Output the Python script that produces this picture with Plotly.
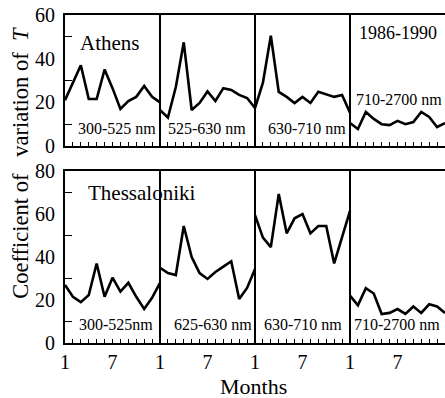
import plotly.graph_objects as go

# ---- data ----
months = list(range(1, 14))  # 13th point = month 1 of next block (block edge)
bands_top = ["300-525 nm", "525-630 nm", "630-710 nm", "710-2700 nm"]
bands_bottom = ["300-525nm", "625-630 nm", "630-710 nm", "710-2700 nm"]

athens_300_525 = [21, 29, 37, 21.5, 21.5, 35, 26.5, 17, 20.6, 22.5, 27.5, 22.5, 20]
athens_525_630 = [16.5, 13, 27, 47.5, 16.5, 19.7, 25, 20.6, 26.5, 25.7, 23.4, 22, 17.4]
athens_630_710 = [17.4, 29, 50.5, 24.8, 22.5, 19.7, 22.5, 19.7, 24.8, 23.8, 22.5, 23.4, 15.2]
athens_710_2700 = [10.5, 7.8, 15.6, 12.4, 10, 9.6, 11.5, 10, 11, 15.6, 13.3, 8.7, 10.5]

thess_300_525 = [27, 21.5, 19, 22.3, 37, 21.5, 30.4, 23.9, 28, 21.5, 15.8, 21, 28]
thess_625_630 = [35, 32.5, 31.6, 54.4, 40, 32.5, 29.8, 33, 35.5, 38, 20.5, 25.6, 34.4]
thess_630_710 = [59.5, 49, 44.6, 69.3, 51, 58, 60, 51, 54.4, 54.4, 37, 49, 61.4]
thess_710_2700 = [22, 17.5, 25.5, 23, 13.5, 14, 15.8, 13.5, 17, 14, 18, 17, 14]

athens = [athens_300_525, athens_525_630, athens_630_710, athens_710_2700]
thess = [thess_300_525, thess_625_630, thess_630_710, thess_710_2700]

tick_pos_labels = ["1", "7"] * 4

FONT = "Liberation Serif"
fig = go.Figure()

def xs(seg):
    return [seg * 12 + (m - 1) for m in months]

for k, vals in enumerate(athens):
    fig.add_trace(go.Scatter(x=xs(k), y=vals, xaxis="x2", yaxis="y2", mode="lines",
                             line=dict(color="black", width=2.6), showlegend=False,
                             hoverinfo="skip"))
for k, vals in enumerate(thess):
    fig.add_trace(go.Scatter(x=xs(k), y=vals, xaxis="x", yaxis="y", mode="lines",
                             line=dict(color="black", width=2.6), showlegend=False,
                             hoverinfo="skip"))

xticks = [i * 6 for i in range(8)]
common_x = dict(range=[0, 48], showgrid=False, zeroline=False, showline=True,
                linecolor="black", linewidth=2, mirror=True,
                tickvals=xticks, ticks="inside", ticklen=4, tickwidth=1.2, tickcolor="black",
                minor=dict(dtick=1, tick0=0, ticks="inside", ticklen=4, tickwidth=1.2,
                           tickcolor="black"),
                tickfont=dict(family=FONT, size=20, color="black"))

fig.update_layout(
    width=445, height=398,
    margin=dict(l=65, r=0, t=15, b=55),
    paper_bgcolor="white", plot_bgcolor="white",
    font=dict(family=FONT, color="black"),
    xaxis=dict(**common_x, anchor="y", ticktext=tick_pos_labels),
    xaxis2=dict(**common_x, anchor="y2", showticklabels=False),
    yaxis=dict(domain=[0, 0.5244], range=[0, 80], showgrid=False, zeroline=False,
               showline=True, linecolor="black", linewidth=2, mirror=False,
               tickvals=[0, 20, 40, 60, 80], ticks="", ticklabelstandoff=4,
               minor=dict(tickvals=[10, 30, 50, 70], ticks="inside", ticklen=7,
                          tickwidth=1.2, tickcolor="black"),
               tickfont=dict(family=FONT, size=20, color="black")),
    yaxis2=dict(domain=[0.6006, 1.0], range=[0, 60], showgrid=False, zeroline=False,
                showline=True, linecolor="black", linewidth=2, mirror=False,
                tickvals=[0, 20, 40, 60], ticks="", ticklabelstandoff=4,
                minor=dict(tickvals=[10, 30, 50], ticks="inside", ticklen=7,
                           tickwidth=1.2, tickcolor="black"),
                tickfont=dict(family=FONT, size=20, color="black")),
)

# block separators
for b in [12, 24, 36]:
    fig.add_shape(type="line", xref="x", yref="y domain", x0=b, x1=b, y0=0, y1=1,
                  line=dict(color="black", width=2))
    fig.add_shape(type="line", xref="x2", yref="y2 domain", x0=b, x1=b, y0=0, y1=1,
                  line=dict(color="black", width=2))

ann = []
def txt(text, x, y, xref, yref, size, xanchor="left", yanchor="middle", **kw):
    ann.append(dict(text=text, x=x, y=y, xref=xref, yref=yref, showarrow=False,
                    xanchor=xanchor, yanchor=yanchor,
                    font=dict(family=FONT, size=size, color="black"), **kw))

txt("Athens", 1.7, 47.2, "x2", "y2", 21)
txt("1986-1990", 36.9, 51.8, "x2", "y2", 18)
top_x = [1.4, 12.8, 25.4, 36.5]
top_y = [8.2, 8.2, 8.2, 21.5]
for t, x, y in zip(bands_top, top_x, top_y):
    txt(t, x, y, "x2", "y2", 16)

txt("Thessaloniki", 2.6, 69.8, "x", "y", 21)
bot_x = [1.5, 13.5, 24.9, 36.3]
for t, x in zip(bands_bottom, bot_x):
    txt(t, x, 8.4, "x", "y", 16)

txt("Months", 0.497, -0.134, "paper", "paper", 22, xanchor="center")
txt("Coefficient of&nbsp;&nbsp;&nbsp;variation of&nbsp; <i>T</i>", -0.118, 0.55,
    "paper", "paper", 22.5, xanchor="center", textangle=-90)

fig.update_layout(annotations=ann)
fig.write_html("out.html", config={"displayModeBar": False},
               post_script="document.body.style.margin='0px';document.body.style.padding='0px';")
